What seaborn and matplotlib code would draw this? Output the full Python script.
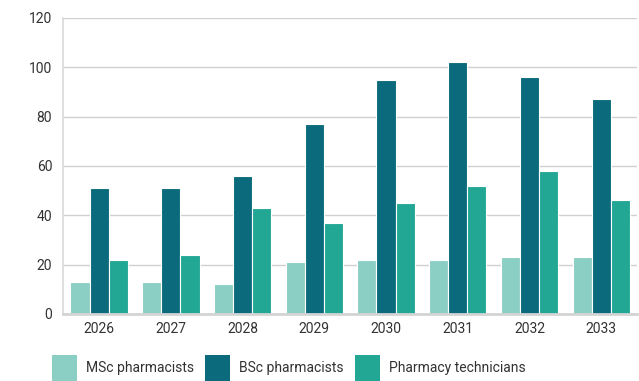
import matplotlib
matplotlib.use("Agg")
import matplotlib.pyplot as plt
import seaborn as sns
import pandas as pd
from matplotlib.patches import Patch

years = ["2026", "2027", "2028", "2029", "2030", "2031", "2032", "2033"]
msc = [13, 13, 12, 21, 22, 22, 23, 23]
bsc = [51, 51, 56, 77, 95, 102, 96, 87]
tech = [22, 24, 43, 37, 45, 52, 58, 46]
series = ["MSc pharmacists", "BSc pharmacists", "Pharmacy technicians"]
colors = ["#8acec4", "#0b6a7b", "#22a795"]

rows = []
for name, vals in zip(series, [msc, bsc, tech]):
    for y, v in zip(years, vals):
        rows.append({"year": y, "value": v, "series": name})
df = pd.DataFrame(rows)

sns.set_theme(style="white")
plt.rcParams['font.family'] = ['Roboto', 'DejaVu Sans']

fig = plt.figure(figsize=(6.39, 3.81), dpi=100)
ax = fig.add_axes([0.099, 0.176, 0.898, 0.777])

sns.barplot(data=df, x="year", y="value", hue="series", palette=colors,
            hue_order=series, order=years, width=0.8, ax=ax, saturation=1,
            edgecolor="white", linewidth=0.8, legend=False)

ax.set_ylim(0, 120)
ax.set_yticks(range(0, 121, 20))
ax.set_xlim(-0.5, len(years) - 0.5)
ax.yaxis.grid(True, color="#d0d0d0", linewidth=1)
ax.set_axisbelow(True)
ax.set_xlabel("")
ax.set_ylabel("")
for s in ["top", "right"]:
    ax.spines[s].set_visible(False)
ax.spines["left"].set_color("#d9d9d9")
ax.spines["left"].set_linewidth(1.2)
ax.spines["bottom"].set_color("#d4d4d4")
ax.spines["bottom"].set_linewidth(2)
ax.tick_params(axis="both", length=0, labelsize=10, colors="#333333", pad=6)
ax.tick_params(axis="y", pad=8)

handles = [Patch(facecolor=c, edgecolor="none") for c in colors]
fig.legend(handles, series, loc="lower left", bbox_to_anchor=(0.081, 0.0),
           ncol=3, frameon=False, fontsize=10, handlelength=1.8, handleheight=2.5,
           columnspacing=0.8, handletextpad=0.65, labelcolor="#333333",
           borderpad=0, borderaxespad=0)

fig.savefig("out.png", dpi=100)
